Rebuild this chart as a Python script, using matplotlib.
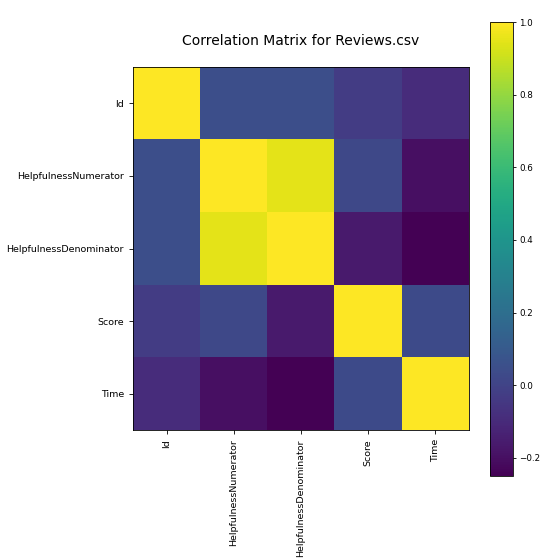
import numpy as np
import matplotlib
matplotlib.use("Agg")
import matplotlib.pyplot as plt

columns = ["Id", "HelpfulnessNumerator", "HelpfulnessDenominator", "Score", "Time"]
row_id = [1.00, 0.05, 0.05, -0.03, -0.09]
row_hn = [0.05, 1.00, 0.95, 0.02, -0.20]
row_hd = [0.05, 0.95, 1.00, -0.16, -0.25]
row_score = [-0.03, 0.02, -0.16, 1.00, 0.03]
row_time = [-0.09, -0.20, -0.25, 0.03, 1.00]
title = "Correlation Matrix for Reviews.csv"
cbar_ticks = [-0.2, 0.0, 0.2, 0.4, 0.6, 0.8, 1.0]

corr = np.array([row_id, row_hn, row_hd, row_score, row_time])

W, H = 542, 559
fig = plt.figure(figsize=(W / 100, H / 100), dpi=100, facecolor="w")
ax = fig.add_axes([133 / W, 1 - 430 / H, 336 / W, 363 / H])
im = ax.imshow(corr, cmap="viridis", aspect="auto", interpolation="nearest")
ax.set_xticks(range(len(columns)))
ax.set_xticklabels(columns, rotation=90, fontsize=6.8)
ax.set_yticks(range(len(columns)))
ax.set_yticklabels(columns, fontsize=6.8)
ax.tick_params(length=3, width=0.6)
ax.set_title(title, fontsize=10, pad=16)

cax = fig.add_axes([490 / W, 1 - 476 / H, 23 / W, 454 / H])
cb = fig.colorbar(im, cax=cax, ticks=cbar_ticks)
cb.ax.tick_params(labelsize=6.3, length=2.5, width=0.6, pad=2)
cb.outline.set_linewidth(0.6)
for s in ax.spines.values():
    s.set_linewidth(0.6)

fig.savefig("out.png", dpi=100, facecolor="w")
